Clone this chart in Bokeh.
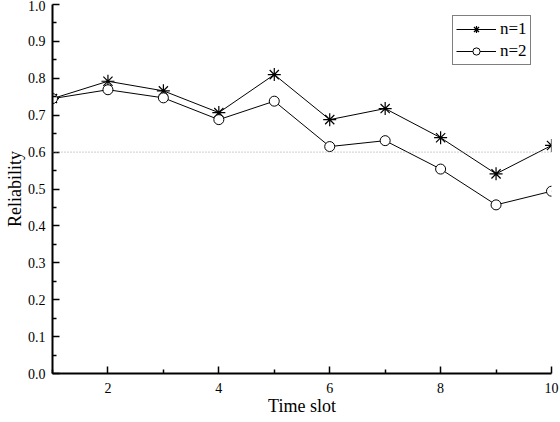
from bokeh.plotting import figure
from bokeh.models import Range1d, Span, Legend, LegendItem, FixedTicker, NumeralTickFormatter
from bokeh.embed import file_html
from bokeh.resources import INLINE

time_slot = [1, 2, 3, 4, 5, 6, 7, 8, 9, 10]
n1 = [0.745, 0.792, 0.766, 0.707, 0.810, 0.688, 0.718, 0.639, 0.541, 0.618]
n2 = [0.745, 0.769, 0.747, 0.688, 0.738, 0.615, 0.631, 0.554, 0.457, 0.494]
threshold = 0.6
x_ticks = [2, 4, 6, 8, 10]
y_ticks = [0.0, 0.1, 0.2, 0.3, 0.4, 0.5, 0.6, 0.7, 0.8, 0.9, 1.0]
x_title = "Time slot"
y_title = "Reliability"

FONT = "Liberation Serif"

p = figure(width=560, height=422, output_backend="svg", toolbar_location=None,
           x_range=Range1d(1, 10), y_range=Range1d(0, 1.0))
p.min_border_left = 52
p.min_border_right = 9
p.min_border_top = 4
p.min_border_bottom = 49
p.outline_line_color = None
p.xgrid.grid_line_color = None
p.ygrid.grid_line_color = None
p.background_fill_color = "white"
p.border_fill_color = "white"

for ax in (p.xaxis[0], p.yaxis[0]):
    ax.axis_line_width = 2
    ax.axis_line_color = "black"
    ax.major_tick_in = 7
    ax.major_tick_out = 0
    ax.minor_tick_in = 4
    ax.minor_tick_out = 0
    ax.major_tick_line_width = 1.5
    ax.minor_tick_line_width = 1.5
    ax.major_label_text_font = FONT
    ax.major_label_text_font_style = "normal"
    ax.major_label_text_font_size = "14px"
    ax.major_label_text_color = "black"
    ax.axis_label_text_font = FONT
    ax.axis_label_text_font_style = "normal"
    ax.axis_label_text_font_size = "18px"
    ax.axis_label_text_color = "black"

p.xaxis[0].ticker = FixedTicker(ticks=x_ticks, minor_ticks=[1, 3, 5, 7, 9])
p.yaxis[0].ticker = FixedTicker(ticks=y_ticks, minor_ticks=[0.05 + 0.1 * i for i in range(10)])
p.yaxis[0].formatter = NumeralTickFormatter(format="0.0")
p.xaxis[0].axis_label = x_title
p.yaxis[0].axis_label = y_title
p.xaxis[0].major_label_standoff = 9
p.xaxis[0].axis_label_standoff = 0
p.yaxis[0].major_label_standoff = 7
p.yaxis[0].axis_label_standoff = 0

span = Span(location=threshold, dimension="width", line_color="#999999",
            line_dash="1 2", line_width=1)
p.add_layout(span)

l1 = p.line(time_slot, n1, line_color="black", line_width=1)
m1 = p.scatter(time_slot, n1, marker="asterisk", size=13, line_color="black", line_width=1.2)
l2 = p.line(time_slot, n2, line_color="black", line_width=1)
m2 = p.scatter(time_slot, n2, marker="circle", size=10, line_color="black",
               fill_color="white", line_width=1)

legend = Legend(items=[LegendItem(label="n=1", renderers=[l1, m1]),
                       LegendItem(label="n=2", renderers=[l2, m2])],
                location=(400, 308))
legend.label_text_font = FONT
legend.label_text_font_style = "normal"
legend.label_text_font_size = "17px"
legend.label_text_color = "black"
legend.border_line_color = "black"
legend.border_line_width = 1
legend.background_fill_alpha = 1
legend.glyph_width = 40
legend.glyph_height = 18
legend.label_standoff = 4
legend.label_height = 18
legend.padding = 3
legend.spacing = 2
legend.margin = 0
p.add_layout(legend)

open("out.html", "w").write(file_html(p, INLINE))
